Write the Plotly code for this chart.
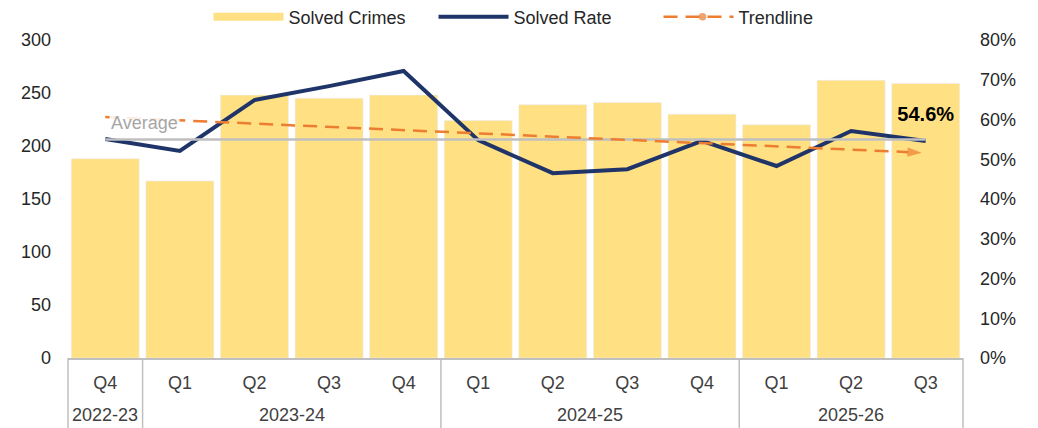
import plotly.graph_objects as go

anos = ['2022-23', '2023-24', '2023-24', '2023-24', '2023-24',
        '2024-25', '2024-25', '2024-25', '2024-25',
        '2025-26', '2025-26', '2025-26']
trimestres = ['Q4', 'Q1', 'Q2', 'Q3', 'Q4', 'Q1', 'Q2', 'Q3', 'Q4', 'Q1', 'Q2', 'Q3']

crimes_resolvidos = [188, 167, 248, 245, 248, 224, 239, 241, 230, 220, 262, 259]
taxa_resolucao = [55.1, 52.1, 64.9, 68.4, 72.2, 54.8, 46.5, 47.5, 54.6, 48.3, 57.1, 54.6]

media = 55.0
tendencia = [60.6, 51.6]  # inicio e fim da linha de tendencia

eixo_esq = [0, 50, 100, 150, 200, 250, 300]
eixo_dir = [0, 10, 20, 30, 40, 50, 60, 70, 80]

fonte = 'Liberation Sans, Arial, sans-serif'
amarelo = '#FFE083'
cinza = '#BFBFBF'

n = len(trimestres)
chaves = [f'{a} {t}' for a, t in zip(anos, trimestres)]
x_ends = [chaves[0], chaves[-1]]

fig = go.Figure()

fig.add_trace(go.Bar(
    x=chaves, y=crimes_resolvidos, name='Solved Crimes',
    marker=dict(color=amarelo), yaxis='y', showlegend=False,
))

# so para a legenda ter a faixa larga como no original
fig.add_trace(go.Scatter(
    x=[None], y=[None], name='Solved Crimes', mode='lines',
    line=dict(color=amarelo, width=8),
))

fig.add_trace(go.Scatter(
    x=chaves, y=taxa_resolucao, name='Solved Rate', yaxis='y2',
    mode='lines+markers+text',
    line=dict(color='#1F3468', width=4),
    marker=dict(size=[0] * (n - 1) + [22], color='rgba(0,0,0,0)', line=dict(width=0)),
    text=[''] * (n - 1) + [f'{taxa_resolucao[-1]:.1f}%'],
    textposition='top center',
    textfont=dict(family=fonte, size=20, color='#000000', weight='bold'),
    cliponaxis=False,
))

fig.add_trace(go.Scatter(
    x=x_ends, y=[media, media], yaxis='y2', mode='lines',
    line=dict(color=cinza, width=2.5), showlegend=False,
    hoverinfo='skip',
))

fig.add_trace(go.Scatter(
    x=x_ends, y=tendencia, name='Trendline', yaxis='y2',
    mode='lines+markers',
    line=dict(color='#ED7D31', width=2.5, dash='14px,8px'),
    marker=dict(symbol=['circle', 'arrow'], size=[0, 15], angleref='previous',
                standoff=4, color='#ED7D31', line=dict(width=0)),
))

fig.add_annotation(
    text='Average', xref='paper', yref='y2', x=0.086, y=media,
    xanchor='center', yshift=16, showarrow=False, bgcolor='rgba(255,255,255,0.85)',
    font=dict(family=fonte, size=18, color='#A6A6A6'),
)

# segunda linha do eixo x: anos fiscais e divisorias entre grupos
grupos = []
for i, a in enumerate(anos):
    if not grupos or grupos[-1][0] != a:
        grupos.append([a, i, i])
    else:
        grupos[-1][2] = i

for a, ini, fim in grupos:
    fig.add_annotation(
        text=a, xref='paper', yref='paper', x=((ini + fim) / 2 + 0.5) / n, y=-0.179,
        xanchor='center', yanchor='middle', showarrow=False,
        font=dict(family=fonte, size=18, color='#404040'),
    )

bordas = [g[1] for g in grupos] + [n]
for b in bordas:
    fig.add_shape(type='line', xref='paper', yref='paper', x0=b / n, x1=b / n,
                  y0=0, y1=-0.235, line=dict(color=cinza, width=1.5))

fig.update_layout(
    width=1038, height=428,
    margin=dict(l=60, r=83, t=32, b=78, autoexpand=False),
    plot_bgcolor='white', paper_bgcolor='white',
    font=dict(family=fonte, size=18, color='#262626'),
    bargap=0.09,
    showlegend=True,
    legend=dict(orientation='h', x=0.157, xanchor='left', y=1.072, yanchor='middle',
                itemwidth=70, entrywidth=140,
                font=dict(family=fonte, size=18, color='#262626')),
    xaxis=dict(type='category', range=[-0.5, n - 0.5],
               tickvals=chaves, ticktext=trimestres,
               showline=True, linecolor=cinza, linewidth=1.5,
               ticks='', ticklabelstandoff=8,
               tickfont=dict(family=fonte, size=18, color='#404040'),
               showgrid=False, automargin=False),
    yaxis=dict(range=[0, 300], tickvals=eixo_esq, showgrid=False, zeroline=False,
               ticks='', automargin=False, ticklabelstandoff=16,
               tickfont=dict(family=fonte, size=18, color='#262626')),
    yaxis2=dict(range=[0, 80], overlaying='y', side='right',
                tickvals=eixo_dir, ticktext=[f'{v}%' for v in eixo_dir],
                showgrid=False, zeroline=False, automargin=False, ticklabelstandoff=16,
                tickfont=dict(family=fonte, size=18, color='#262626')),
)

fig.write_html('out.html')
